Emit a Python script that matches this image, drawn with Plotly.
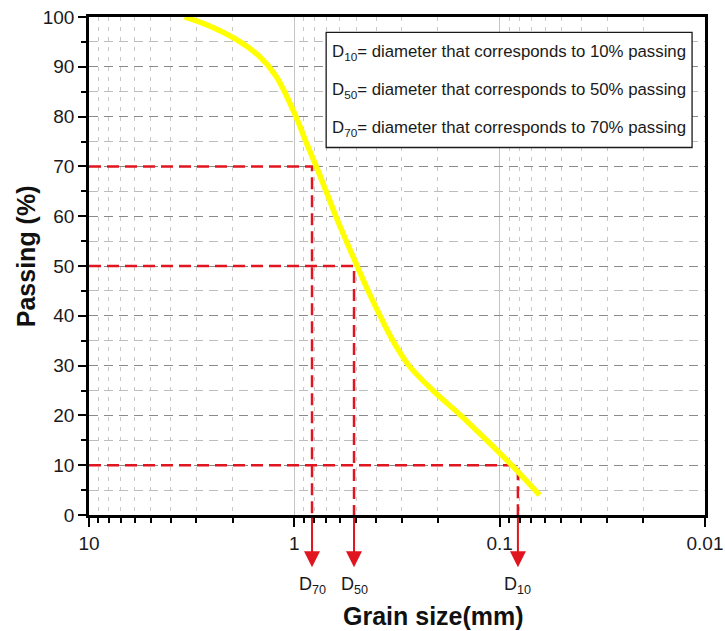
import numpy as np
import plotly.graph_objects as go

# Grain size distribution curve
grain_size_mm = [3.42, 2.59, 1.92, 1.48, 1.227, 0.982, 0.879, 0.782, 0.70, 0.628,
                 0.4945, 0.437, 0.3825, 0.331, 0.2765, 0.2114, 0.1546, 0.1156,
                 0.0874, 0.0639]
passing_pct = [100, 98.2, 95.5, 92.1, 88.1, 80.0, 75.0, 70.0, 65.0, 60.0,
               50.0, 45.0, 40.0, 35.0, 30.0, 25.0, 20.0, 15.0, 10.0, 4.0]

# Characteristic diameters
d_labels = ["D<sub>70</sub>", "D<sub>50</sub>", "D<sub>10</sub>"]
d_percent = [70, 50, 10]
d_size_mm = [0.82, 0.512, 0.0815]

legend_lines = [
    "D<sub>10</sub>= diameter that corresponds to 10% passing",
    "D<sub>50</sub>= diameter that corresponds to 50% passing",
    "D<sub>70</sub>= diameter that corresponds to 70% passing",
]

x_ticks = [10, 1, 0.1, 0.01]
x_ticktext = ["10", "1", "0.1", "0.01"]
x_minor = [m * 10.0 ** e for e in (0, -1, -2) for m in range(2, 10)]

FONT = "Arial, Liberation Sans, Helvetica, sans-serif"
RED = "#e0151f"

fig = go.Figure()

# Red dashed guide lines for each D value
for p, d in zip(d_percent, d_size_mm):
    fig.add_trace(go.Scatter(
        x=[10, d, d], y=[p, p, 0], mode="lines",
        line=dict(color=RED, width=2.5, dash="12px,6px"),
        hoverinfo="skip", showlegend=False,
    ))

fig.add_trace(go.Scatter(
    x=grain_size_mm, y=passing_pct, mode="lines",
    line=dict(color="#ffff00", width=5.5, shape="spline", smoothing=1.0),
    showlegend=False,
))

annotations = []
for lab, d in zip(d_labels, d_size_mm):
    lx = float(np.log10(d))
    # arrow below the axis pointing down
    annotations.append(dict(
        x=lx, y=-0.105, xref="x", yref="paper", ax=0, ay=-51,
        axref="pixel", ayref="pixel",
        text="", showarrow=True, arrowhead=2, arrowsize=1.6, arrowwidth=2,
        arrowcolor=RED, standoff=0, startstandoff=0,
    ))
    annotations.append(dict(
        x=lx, y=-0.142, xref="x", yref="paper", text=lab, showarrow=False,
        xanchor="center", yanchor="middle",
        font=dict(family=FONT, size=18, color="#1a1a1a"),
    ))

for i, t in enumerate(legend_lines):
    annotations.append(dict(
        x=0.392, y=0.928 - i * 0.0755, xref="paper", yref="paper",
        xanchor="left", yanchor="middle", text=t, showarrow=False,
        font=dict(family=FONT, size=16.8, color="#1a1a1a"),
    ))

annotations.append(dict(
    x=0.560, y=-0.202, xref="paper", yref="paper", text="<b>Grain size(mm)</b>",
    xanchor="center", yanchor="middle",
    showarrow=False, font=dict(family=FONT, size=25, color="#111111"),
))
annotations.append(dict(
    x=-0.102, y=0.52, xref="paper", yref="paper", text="<b>Passing (%)</b>",
    xanchor="center", yanchor="middle",
    textangle=-90, showarrow=False, font=dict(family=FONT, size=25, color="#111111"),
))

fig.update_layout(
    width=725, height=631,
    margin=dict(l=89, r=20, t=17, b=116),
    paper_bgcolor="white", plot_bgcolor="white",
    annotations=annotations,
    shapes=[dict(
        type="rect", xref="paper", yref="paper",
        x0=0.385, x1=0.979, y0=0.738, y1=0.969,
        line=dict(color="#1a1a1a", width=1.3), fillcolor="white", layer="above",
    )],
)

fig.update_xaxes(
    type="log", range=[1, -2], automargin=False,
    tickmode="array", tickvals=x_ticks, ticktext=x_ticktext,
    ticks="outside", ticklen=9, tickwidth=2, tickcolor="black",
    tickfont=dict(family=FONT, size=19, color="#1a1a1a"),
    showline=True, linecolor="black", linewidth=2.5, mirror=True,
    showgrid=True, gridcolor="#c4c4c4", gridwidth=1.3,
    zeroline=False,
    minor=dict(tickmode="array", tickvals=x_minor, ticks="outside", ticklen=5,
               tickwidth=1.8, tickcolor="black", showgrid=True,
               gridcolor="#c8c8c8", gridwidth=1, griddash="4px,6px"),
)
fig.update_yaxes(
    range=[0, 100], tickmode="linear", tick0=0, dtick=10, automargin=False,
    ticks="outside", ticklen=8, tickwidth=2, tickcolor="black",
    tickfont=dict(family=FONT, size=19, color="#1a1a1a"),
    showline=True, linecolor="black", linewidth=2.5, mirror=True,
    showgrid=True, gridcolor="#8a8a8a", gridwidth=1.3, griddash="9px,6px",
    zeroline=False,
    minor=dict(dtick=5, ticks="outside", ticklen=5, tickwidth=1.8,
               tickcolor="black", showgrid=True, gridcolor="#bdbdbd",
               gridwidth=1.1, griddash="9px,6px"),
)

fig.write_html("out.html")
